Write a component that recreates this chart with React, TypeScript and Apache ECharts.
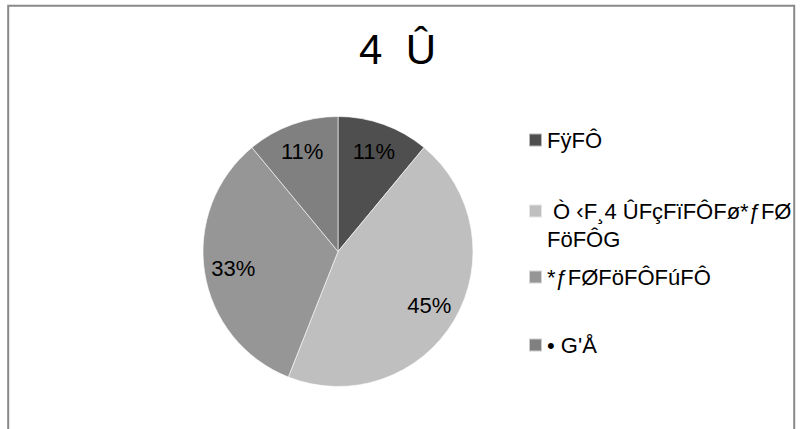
import React, { useEffect, useRef } from "react";
import * as echarts from "echarts";

const titleText = "4  Û";
const categories = [
  "FÿFÔ",
  " Ò ‹F¸4 ÛFçFïFÔFø*ƒFØFöFÔG",
  "*ƒFØFöFÔFúFÔ",
  "• G'Å",
];
const values = [11, 45, 33, 11];
const colors = ["#4f4f4f", "#bfbfbf", "#969696", "#808080"];
const wrapAt = [0, 21, 0, 0];
const legendTops = [126, 169, 263, 331];

const FONT = "'Liberation Sans', Arial, sans-serif";

export default function App() {
  const ref = useRef<HTMLDivElement>(null);
  useEffect(() => {
    if (!ref.current) return;
    const chart = echarts.init(ref.current, undefined, { renderer: "svg" });
    const data = categories.map((name, i) => ({ name, value: values[i], itemStyle: { color: colors[i] } }));
    const legends = categories.map((name, i) => ({
      data: [name],
      orient: "vertical",
      left: 528,
      top: legendTops[i],
      padding: 0,
      itemWidth: 13,
      itemHeight: 13,
      icon: "rect",
      selectedMode: false,
      textStyle: { fontFamily: FONT, fontSize: 22, color: "#000", lineHeight: 28 },
      formatter: (n: string) => {
        const k = categories.indexOf(n);
        if (k >= 0 && wrapAt[k] > 0) return "\n" + n.slice(0, wrapAt[k]) + "\n" + n.slice(wrapAt[k]);
        return n;
      },
    }));
    chart.setOption({
      animation: false,
      backgroundColor: "#ffffff",
      title: {
        text: titleText,
        left: 359,
        top: 28,
        padding: 0,
        textStyle: { fontFamily: FONT, fontSize: 42, fontWeight: "normal", color: "#000", lineHeight: 42 },
      },
      legend: legends,
      graphic: [
        {
          type: "rect",
          shape: { x: 8.2, y: 5.7, width: 786, height: 440 },
          style: { fill: "none", stroke: "#898989", lineWidth: 2 },
          silent: true,
        },
      ],
      series: [
        {
          type: "pie",
          center: [338, 251.5],
          radius: [0, 135],
          startAngle: 90,
          clockwise: true,
          data,
          label: { show: false },
          labelLine: { show: false },
          itemStyle: { borderColor: "rgba(255,255,255,0.6)", borderWidth: 1 },
          emphasis: { disabled: true },
          silent: true,
        },
        {
          type: "pie",
          center: [338, 251.5],
          radius: [71, 135],
          startAngle: 90,
          clockwise: true,
          data: categories.map((name, i) => ({ name, value: values[i] })),
          itemStyle: { color: "rgba(0,0,0,0)", borderWidth: 0 },
          label: {
            show: true,
            position: "inside",
            formatter: (p: any) => Math.round(p.percent) + "%",
            fontFamily: FONT,
            fontSize: 22,
            color: "#000",
          },
          labelLine: { show: false },
          emphasis: { disabled: true },
          silent: true,
        },
      ],
    });
    return () => chart.dispose();
  }, []);
  return (
    <div
      ref={ref}
      style={{ position: "fixed", left: 0, top: 0, width: 808, height: 429, background: "#fff" }}
    />
  );
}
